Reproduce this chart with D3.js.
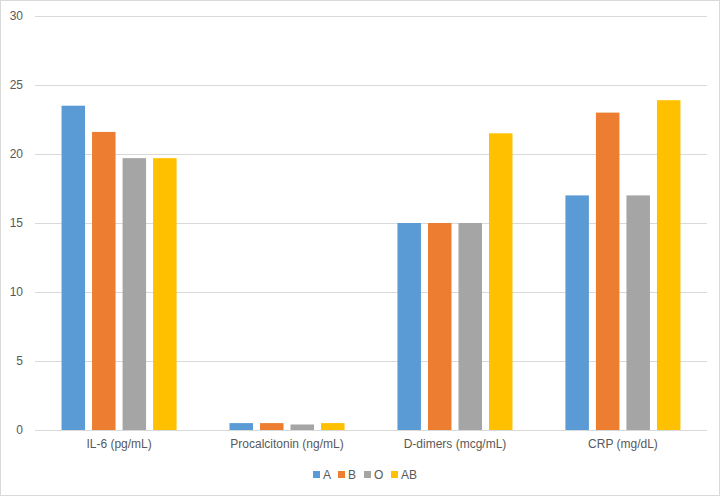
<!DOCTYPE html>
<html>
<head>
<meta charset="utf-8">
<script src="https://cdn.jsdelivr.net/npm/d3@7"></script>
<style>
  body { margin: 0; background: #fff; }
  text { font-family: "Liberation Sans", Arial, sans-serif; fill: #595959; }
</style>
</head>
<body>
<div id="chart"></div>
<script>
// data
let categories = ["IL-6 (pg/mL)", "Procalcitonin (ng/mL)", "D-dimers (mcg/mL)", "CRP (mg/dL)"]
let groups = ["A", "B", "O", "AB"]
let valuesA = [23.5, 0.5, 15, 17]
let valuesB = [21.6, 0.5, 15, 23]
let valuesO = [19.7, 0.4, 15, 17]
let valuesAB = [19.7, 0.5, 21.5, 23.9]
let yTicks = [0, 5, 10, 15, 20, 25, 30]
let colors = ["#5b9bd5", "#ed7d31", "#a5a5a5", "#ffc000"]

let series = [valuesA, valuesB, valuesO, valuesAB]
let rows = categories.map((c, i) => ({cat: c, vals: groups.map((g, j) => ({group: g, value: series[j][i]}))}))

var W = 720, H = 496
var margin = {top: 16, right: 13, bottom: 66, left: 35},
    width = W - margin.left - margin.right,
    height = H - margin.top - margin.bottom

var root = d3.select("#chart")
  .append("svg")
    .attr("width", W)
    .attr("height", H)

// outer chart border
root.append("rect")
  .attr("x", 0.5).attr("y", 0.5)
  .attr("width", W - 1).attr("height", H - 1)
  .attr("fill", "white")
  .attr("stroke", "#d9d9d9")

var svg = root.append("g")
  .attr("transform", `translate(${margin.left}, ${margin.top})`)

var x0 = d3.scaleBand()
  .domain(categories)
  .range([0, width])
  .paddingInner(0.315)
  .paddingOuter(0.158)

var x1 = d3.scaleBand()
  .domain(groups)
  .range([0, x0.bandwidth()])
  .paddingInner(0.23)

var y = d3.scaleLinear()
  .domain([0, 30])
  .range([height, 0])

var color = d3.scaleOrdinal().domain(groups).range(colors)

// gridlines
svg.selectAll("line.grid")
  .data(yTicks)
  .join("line")
  .attr("class", "grid")
  .attr("x1", 0)
  .attr("x2", width)
  .attr("y1", d => Math.round(y(d)) + 0.5)
  .attr("y2", d => Math.round(y(d)) + 0.5)
  .attr("stroke", "#d9d9d9")
  .attr("stroke-width", 1)

// y axis labels
let yAxis = svg.append("g")
  .call(d3.axisLeft(y).tickValues(yTicks).tickSize(0).tickPadding(12))
yAxis.select(".domain").remove()
yAxis.selectAll("text")
  .style("font-size", "12px")
  .style("font-family", "\"Liberation Sans\", Arial, sans-serif")
  .attr("fill", "#595959")

// bars
svg.selectAll("g.cat")
  .data(rows)
  .join("g")
  .attr("class", "cat")
  .attr("transform", d => `translate(${x0(d.cat)},0)`)
  .selectAll("rect")
  .data(d => d.vals)
  .join("rect")
  .attr("x", d => x1(d.group))
  .attr("y", d => y(d.value))
  .attr("width", x1.bandwidth())
  .attr("height", d => y(0) - y(d.value))
  .attr("fill", d => color(d.group))

// x axis labels
let xAxis = svg.append("g")
  .attr("transform", `translate(0, ${height})`)
  .call(d3.axisBottom(x0).tickSize(0).tickPadding(9))
xAxis.select(".domain").remove()
xAxis.selectAll("text")
  .style("font-size", "12px")
  .style("font-family", "\"Liberation Sans\", Arial, sans-serif")
  .attr("fill", "#595959")

// legend
let legendX = [313, 338, 364, 391]
let legend = root.append("g")
  .selectAll("g")
  .data(groups)
  .join("g")
  .attr("transform", (d, i) => `translate(${legendX[i]}, 471)`)

legend.append("rect")
  .attr("width", 7)
  .attr("height", 7)
  .attr("fill", d => color(d))

legend.append("text")
  .attr("x", 10)
  .attr("y", 8)
  .style("font-size", "12px")
  .text(d => d)
</script>
</body>
</html>
